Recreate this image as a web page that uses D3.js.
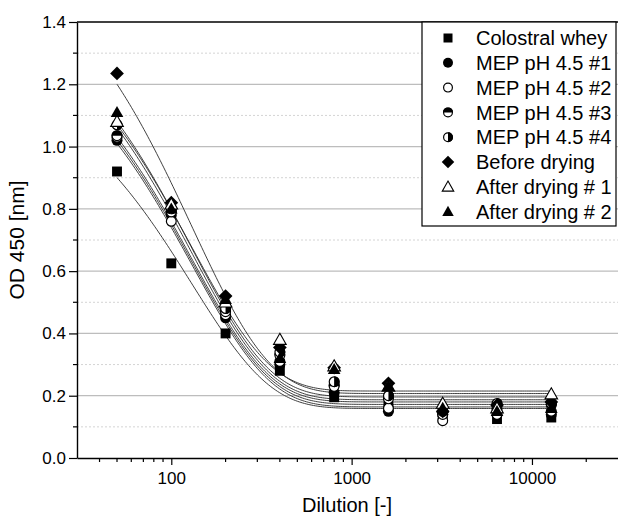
<!DOCTYPE html>
<html><head><meta charset="utf-8">
<script src="https://cdn.jsdelivr.net/npm/d3@7"></script>
<style>body{margin:0;background:#fff}svg{display:block;font-family:"Liberation Sans",Arial,sans-serif}</style>
</head><body><svg id="c" width="618" height="523"></svg>
<script>
const dilutions = [50, 100, 200, 400, 800, 1600, 3200, 6400, 12800];
const seriesNames = ["Colostral whey", "MEP pH 4.5 #1", "MEP pH 4.5 #2", "MEP pH 4.5 #3", "MEP pH 4.5 #4", "Before drying", "After drying # 1", "After drying # 2"];
const colostralWhey = [0.92, 0.625, 0.40, 0.28, 0.195, 0.165, 0.13, 0.125, 0.13];
const mep1 = [1.02, 0.78, 0.45, 0.30, 0.21, 0.15, 0.14, 0.155, 0.14];
const mep2 = [1.03, 0.76, 0.46, 0.31, 0.235, 0.16, 0.12, 0.14, 0.15];
const mep3 = [1.035, 0.79, 0.47, 0.33, 0.23, 0.19, 0.14, 0.165, 0.17];
const mep4 = [1.07, 0.80, 0.48, 0.34, 0.245, 0.20, 0.15, 0.175, 0.175];
const beforeDrying = [1.235, 0.82, 0.52, 0.355, 0.29, 0.24, 0.15, 0.17, 0.18];
const afterDrying1 = [1.08, 0.815, 0.50, 0.38, 0.295, 0.23, 0.175, 0.16, 0.205];
const afterDrying2 = [1.11, 0.80, 0.51, 0.32, 0.285, 0.23, 0.16, 0.15, 0.16];
// exponential decay fit parameters (y = y0 + A1*exp(-x/t1)) per series
const fitY0 = [0.159, 0.164, 0.172, 0.180, 0.187, 0.207, 0.215, 0.196];
const fitA1 = [1.089, 1.243, 1.246, 1.249, 1.282, 1.459, 1.256, 1.299];
const fitT1 = [130, 130, 130, 130, 130, 130, 130, 130];
const symbols = ["square", "circle", "circleOpen", "circleTop", "circleRight", "diamond", "triangleOpen", "triangle"];
const yTicks = [0.0, 0.2, 0.4, 0.6, 0.8, 1.0, 1.2, 1.4];
const yMinor = [0.1, 0.3, 0.5, 0.7, 0.9, 1.1, 1.3];
const xTicks = [100, 1000, 10000];

const values = [colostralWhey, mep1, mep2, mep3, mep4, beforeDrying, afterDrying1, afterDrying2];
const svg = d3.select("#c");
const x = d3.scaleLog().domain([30, 30000]).range([77, 618]);
const y = d3.scaleLinear().domain([0, 1.4]).range([458, 22]);

// gridlines
svg.append("g").selectAll("line").data(yTicks.slice(1, -1)).join("line")
  .attr("x1", 77).attr("x2", 618).attr("y1", d => y(d)).attr("y2", d => y(d))
  .attr("stroke", "#bdbdbd").attr("stroke-width", 1.2);
svg.append("g").selectAll("line").data(yMinor).join("line")
  .attr("x1", 77).attr("x2", 618).attr("y1", d => y(d)).attr("y2", d => y(d))
  .attr("stroke", "#d4d4d4").attr("stroke-width", 1).attr("stroke-dasharray", "2,2");

// fitted curves
const curveX = d3.range(Math.log10(50), Math.log10(12800) + 1e-9, 0.01).map(v => Math.pow(10, v));
const line = d3.line().x(d => x(d[0])).y(d => y(d[1]));
values.forEach((v, i) => {
  const pts = curveX.map(xx => [xx, fitY0[i] + fitA1[i] * Math.exp(-xx / fitT1[i])]);
  svg.append("path").attr("d", line(pts)).attr("fill", "none").attr("stroke", "#2a2a2a").attr("stroke-width", 0.9);
});

// axes
const xAxis = d3.axisBottom(x).tickValues(xTicks).tickFormat(d3.format("d")).tickSize(7).tickSizeOuter(0);
const gx = svg.append("g").attr("transform", "translate(0,458)").call(xAxis);
const minorX = [];
[10, 100, 1000, 10000].forEach(dec => { for (let k = 2; k <= 9; k++) { const v = dec * k; if (v > 30 && v < 30000) minorX.push(v); } });
gx.selectAll(".minor").data(minorX.filter(v => !xTicks.includes(v))).join("line").attr("class", "minor")
  .attr("x1", d => x(d)).attr("x2", d => x(d)).attr("y1", 0).attr("y2", 4).attr("stroke", "#000").attr("stroke-width", 1.2);
const yAxis = d3.axisLeft(y).tickValues(yTicks).tickFormat(d3.format(".1f")).tickSize(8).tickSizeOuter(0);
const gy = svg.append("g").attr("transform", "translate(77,0)").call(yAxis);
gy.selectAll(".minor").data(yMinor).join("line").attr("class", "minor")
  .attr("x1", -4).attr("x2", 0).attr("y1", d => y(d)).attr("y2", d => y(d)).attr("stroke", "#000").attr("stroke-width", 1.2);
[gx, gy].forEach(g => {
  g.select(".domain").attr("stroke", "#000").attr("stroke-width", 1.4);
  g.selectAll(".tick line").attr("stroke", "#000").attr("stroke-width", 1.2);
  g.selectAll("text").attr("font-size", 17).attr("fill", "#000").attr("font-family", "Liberation Sans, Arial, sans-serif");
});
gx.selectAll(".tick text").attr("dy", "0.95em");
gy.selectAll(".tick text").attr("x", -11);
svg.append("line").attr("x1", 77).attr("x2", 618).attr("y1", 22).attr("y2", 22).attr("stroke", "#000").attr("stroke-width", 1.4);

svg.append("text").attr("x", 347).attr("y", 512).attr("text-anchor", "middle").attr("font-size", 20).text("Dilution [-]");
svg.append("text").attr("transform", "translate(24,240) rotate(-90)").attr("text-anchor", "middle").attr("font-size", 21).text("OD 450 [nm]");

// symbol drawing
function drawSymbol(g, type, cx, cy, s) {
  const r = s / 2;
  if (type === "square") {
    g.append("rect").attr("x", cx - r * 0.9).attr("y", cy - r * 0.9).attr("width", s * 0.9).attr("height", s * 0.9).attr("fill", "#000");
  } else if (type === "circle") {
    g.append("circle").attr("cx", cx).attr("cy", cy).attr("r", r).attr("fill", "#000");
  } else if (type === "circleOpen") {
    g.append("circle").attr("cx", cx).attr("cy", cy).attr("r", r - 0.6).attr("fill", "#fff").attr("stroke", "#000").attr("stroke-width", 1.2);
  } else if (type === "circleTop" || type === "circleRight") {
    g.append("circle").attr("cx", cx).attr("cy", cy).attr("r", r - 0.6).attr("fill", "#fff").attr("stroke", "#000").attr("stroke-width", 1.2);
    const p = type === "circleTop"
      ? `M${cx - r},${cy} A${r},${r} 0 0 1 ${cx + r},${cy} Z`
      : `M${cx},${cy - r} A${r},${r} 0 0 1 ${cx},${cy + r} Z`;
    g.append("path").attr("d", p).attr("fill", "#000");
  } else if (type === "diamond") {
    const d = r * 1.25;
    g.append("path").attr("d", `M${cx},${cy - d} L${cx + d},${cy} L${cx},${cy + d} L${cx - d},${cy} Z`).attr("fill", "#000");
  } else if (type === "triangle" || type === "triangleOpen") {
    const h = r * 1.15;
    const p = `M${cx},${cy - h} L${cx + h},${cy + h * 0.75} L${cx - h},${cy + h * 0.75} Z`;
    if (type === "triangle") g.append("path").attr("d", p).attr("fill", "#000");
    else g.append("path").attr("d", p).attr("fill", "#fff").attr("stroke", "#000").attr("stroke-width", 1.1);
  }
}

const pg = svg.append("g");
values.forEach((v, i) => {
  v.forEach((val, j) => drawSymbol(pg, symbols[i], x(dilutions[j]), y(val), 11));
});

// legend
const lg = svg.append("g");
lg.append("rect").attr("x", 422).attr("y", 22).attr("width", 194).attr("height", 204).attr("fill", "#fff").attr("stroke", "#000").attr("stroke-width", 1.2);
seriesNames.forEach((n, i) => {
  const yy = 38 + i * 24.8;
  drawSymbol(lg, symbols[i], 448, yy, 10);
  lg.append("text").attr("x", 476).attr("y", yy).attr("dy", "0.36em").attr("font-size", 20).text(n);
});
</script></body></html>
